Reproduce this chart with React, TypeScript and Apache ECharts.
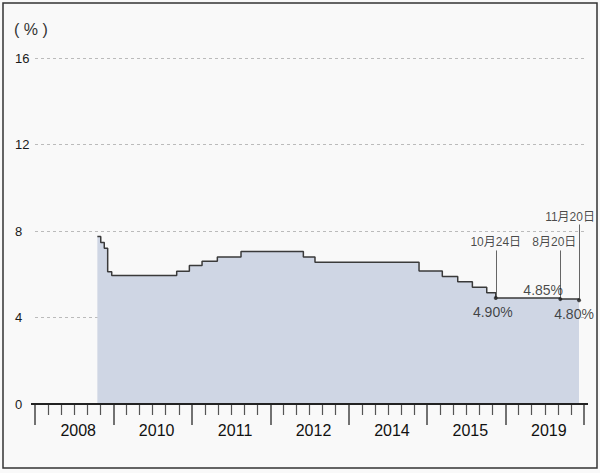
import React, { useEffect, useRef } from "react";
import * as echarts from "echarts";

// x positions are in axis tick units (42 minor ticks, 6 per labelled band)
const stepX = [4.77, 5.03, 5.3, 5.56, 5.87, 10.84, 11.81, 12.78, 13.95, 15.76, 20.53, 21.42, 29.38, 31.16, 32.34, 33.46, 34.56, 35.25, 40.19, 41.62];
const rates = [7.74, 7.47, 7.2, 6.12, 5.94, 6.14, 6.4, 6.6, 6.8, 7.05, 6.8, 6.55, 6.15, 5.9, 5.65, 5.4, 5.15, 4.9, 4.85, 4.8];
const yearLabels = ["2008", "2010", "2011", "2012", "2014", "2015", "2019"];
const yTicks = [0, 4, 8, 12, 16];

const markX = [35.25, 40.19, 41.62];
const markVals = [4.9, 4.85, 4.8];
const markText = ["4.90%", "4.85%", "4.80%"];
const markLabelPos = ["bottom", "topLeft", "bottom"];
const markShift = [-3, 0, -5];
const dateText = ["10月24日", "8月20日", "11月20日"];
const dateTop = [7.1, 7.1, 8.3];
const dateShift = [0, -6, -9];

const SANS = "'Liberation Sans', 'Noto Sans CJK SC', sans-serif";

export default function App() {
  const ref = useRef<HTMLDivElement>(null);
  useEffect(() => {
    if (!ref.current) return;
    const chart = echarts.init(ref.current, null, { renderer: "svg" });
    const lineData = stepX.map((x, i) => [x, rates[i]]);
    const dots = markX.map((x, i) => {
      const pos = markLabelPos[i];
      const label: any = {
        show: true,
        formatter: markText[i],
        fontFamily: SANS,
        fontSize: 14,
        color: "#1a1a1a",
      };
      if (pos === "bottom") {
        label.position = "bottom";
        label.distance = 5;
        label.offset = [markShift[i], 0];
      } else {
        label.position = [-35, -14];
      }
      return { value: [x, markVals[i]], label };
    });
    const dateAnchors = markX.map((x, i) => ({
      value: [x, dateTop[i]],
      label: {
        show: true,
        position: "top",
        distance: 2,
        offset: [dateShift[i], 0],
        formatter: dateText[i],
        fontFamily: SANS,
        fontSize: 12,
        color: "#1a1a1a",
      },
    }));
    const leaders = markX.map((x, i) => [
      { coord: [x, markVals[i]] },
      { coord: [x, dateTop[i]] },
    ]);

    chart.setOption({
      animation: false,
      backgroundColor: "#f9f9f9",
      grid: { left: 35, right: 16, top: 58, bottom: 69, containLabel: false },
      graphic: [
        {
          type: "rect",
          shape: { x: 3, y: 3, width: 594, height: 465 },
          style: { fill: "none", stroke: "#333", lineWidth: 1.5 },
          silent: true,
        },
        {
          type: "line",
          shape: { x1: 31, y1: 404, x2: 588, y2: 404 },
          style: { stroke: "#222", lineWidth: 2 },
          silent: true,
          z: 10,
        },
        {
          type: "text",
          left: 14,
          top: 21,
          style: { text: "( % )", fontSize: 16, fill: "#333", fontFamily: SANS },
        },
      ],
      xAxis: [
        {
          type: "value",
          min: 0,
          max: 42,
          interval: 6,
          axisLine: { show: true, lineStyle: { color: "#222", width: 2 } },
          axisTick: { show: true, length: 21, lineStyle: { color: "#444", width: 1.5 } },
          minorTick: { show: true, splitNumber: 6, length: 11, lineStyle: { color: "#555", width: 1.2 } },
          axisLabel: { show: false },
          splitLine: { show: false },
          minorSplitLine: { show: false },
        },
        {
          type: "category",
          data: yearLabels,
          boundaryGap: true,
          position: "bottom",
          axisLine: { show: false },
          axisTick: { show: false },
          axisLabel: {
            margin: 18,
            fontSize: 16,
            color: "#111",
            fontFamily: SANS,
            padding: [0, 0, 0, 8],
          },
          splitLine: { show: false },
        },
      ],
      yAxis: {
        type: "value",
        min: yTicks[0],
        max: yTicks[yTicks.length - 1],
        interval: 4,
        axisLine: { show: false },
        axisTick: { show: false },
        axisLabel: {
          align: "left",
          margin: 20,
          fontSize: 13,
          color: "#1a1a1a",
          fontFamily: SANS,
        },
        splitLine: { show: true, lineStyle: { color: "#bbb", type: [3, 3], width: 1 } },
      },
      series: [
        {
          type: "line",
          xAxisIndex: 0,
          step: "end",
          data: lineData,
          symbol: "none",
          lineStyle: { color: "#3a3a3a", width: 1.5 },
          areaStyle: { color: "#cfd6e4", opacity: 1 },
          z: 2,
        },
        {
          type: "scatter",
          xAxisIndex: 0,
          data: dots,
          symbol: "circle",
          symbolSize: 4,
          itemStyle: { color: "#222" },
          z: 5,
          markLine: {
            silent: true,
            symbol: "none",
            label: { show: false },
            lineStyle: { color: "#666", width: 1, type: "solid" },
            data: leaders,
          },
        },
        {
          type: "scatter",
          xAxisIndex: 0,
          data: dateAnchors,
          symbolSize: 0,
          itemStyle: { color: "transparent" },
          z: 5,
        },
      ],
    });
    return () => chart.dispose();
  }, []);
  return (
    <div
      ref={ref}
      style={{ position: "fixed", left: 0, top: 0, width: 600, height: 473 }}
    />
  );
}
